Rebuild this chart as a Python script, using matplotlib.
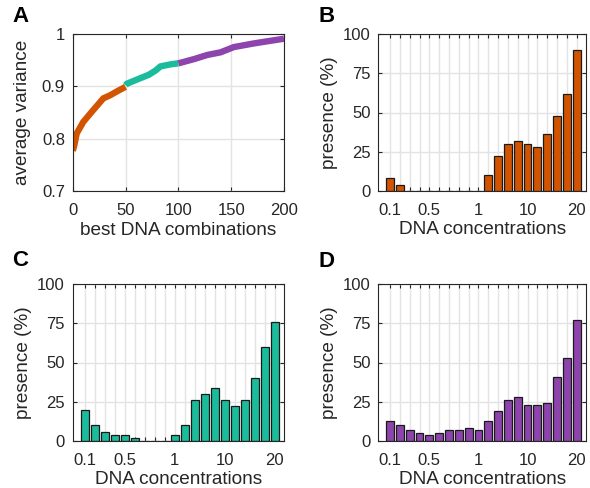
import matplotlib
matplotlib.use("Agg")
import matplotlib.pyplot as plt
import numpy as np

plt.rcParams['font.family'] = ['Liberation Sans', 'DejaVu Sans']

# ---- Panel A data ----
a_orange_x = [0, 1.3, 3.8, 10, 19.6, 29, 35.5, 43.4, 50]
a_orange_y = [0.777, 0.785, 0.810, 0.832, 0.855, 0.877, 0.883, 0.892, 0.899]
a_teal_x = [50, 51.3, 60.9, 71.9, 78.3, 83, 92.5, 100]
a_teal_y = [0.902, 0.905, 0.913, 0.922, 0.930, 0.938, 0.942, 0.944]
a_purple_x = [100, 102, 114.8, 127.5, 140, 152.5, 171.5, 184, 200]
a_purple_y = [0.944, 0.945, 0.952, 0.960, 0.965, 0.975, 0.982, 0.986, 0.991]

# ---- Bar data ----
concentrations = ["0.1", "0.2", "0.3", "0.4", "0.5", "0.6", "0.7", "0.8", "0.9", "1",
                  "2", "4", "6", "8", "10", "12", "14", "16", "18", "20"]
shown_labels = ["0.1", "0.5", "1", "10", "20"]
presence_B = [8, 4, 0, 0, 0, 0, 0, 0, 0, 0, 10, 22, 30, 32, 30, 28, 36, 48, 62, 90]
presence_C = [20, 10, 6, 4, 4, 2, 0, 0, 0, 4, 10, 26, 30, 34, 26, 22, 26, 40, 60, 76]
presence_D = [13, 10, 7, 5, 4, 5, 7, 7, 8, 7, 13, 19, 26, 28, 23, 23, 24, 41, 53, 77]

ORANGE = "#D35400"
TEAL = "#1ABC9C"
PURPLE = "#8E44AD"
AX_COL = "#262626"
GRID_COL = "#E3E3E3"
TICK_FS = 12
LAB_FS = 13.7

W, H = 590, 488
fig = plt.figure(figsize=(W / 100, H / 100), dpi=100)


def rect(l, r, t, b):
    return [l / W, (H - b) / H, (r - l) / W, (b - t) / H]


def style(ax):
    for s in ax.spines.values():
        s.set_color(AX_COL)
        s.set_linewidth(0.8)
    ax.tick_params(direction='in', top=True, right=True, colors=AX_COL,
                   labelsize=TICK_FS, length=3, width=0.8)
    ax.tick_params(axis='x', pad=8.5)
    ax.tick_params(axis='y', pad=5.6)
    ax.set_axisbelow(True)


def labels(ax, xl, yl, wpx, hpx, ylab_px, xlab_px):
    ax.set_xlabel(xl, fontsize=LAB_FS, color=AX_COL)
    ax.set_ylabel(yl, fontsize=LAB_FS, color=AX_COL)
    ax.yaxis.set_label_coords(-ylab_px / wpx, 0.5)
    ax.xaxis.set_label_coords(0.5, -xlab_px / hpx)


# ---- Panel A ----
axA = fig.add_axes(rect(72.7, 284, 34, 191))
style(axA)
for xs, ys, c in [(a_orange_x, a_orange_y, ORANGE), (a_teal_x, a_teal_y, TEAL),
                  (a_purple_x, a_purple_y, PURPLE)]:
    axA.plot(xs, ys, color=c, lw=4.6, solid_capstyle='butt', solid_joinstyle='miter')
axA.set_xlim(0, 200)
axA.set_ylim(0.7, 1.0)
axA.set_xticks([0, 50, 100, 150, 200])
axA.set_yticks([0.7, 0.8, 0.9, 1.0])
axA.set_yticklabels(["0.7", "0.8", "0.9", "1"])
axA.grid(True, color=GRID_COL, lw=1)
labels(axA, "best DNA combinations", "average variance", 211.3, 157, 42, 31)


def bar_panel(r, vals, color, wpx):
    ax = fig.add_axes(r)
    style(ax)
    pos = np.arange(1, len(concentrations) + 1)
    ax.bar(pos, vals, width=0.8, color=color, edgecolor="#1a1a1a", linewidth=0.9)
    ax.set_xlim(-0.2, 20.95)
    ax.set_ylim(0, 100)
    ax.set_yticks([0, 25, 50, 75, 100])
    ax.set_xticks(pos)
    ax.set_xticklabels([c if c in shown_labels else "" for c in concentrations])
    ax.grid(True, color=GRID_COL, lw=1)
    labels(ax, "DNA concentrations", "presence (%)", wpx, 157, 40.5, 30.5)
    return ax


bar_panel(rect(378.3, 586, 34, 191), presence_B, ORANGE, 207.7)
bar_panel(rect(72.7, 284, 284, 441), presence_C, TEAL, 211.3)
bar_panel(rect(378.3, 586, 284, 441), presence_D, PURPLE, 207.7)

for lbl, x, y in [("A", 12, 6), ("B", 318, 6), ("C", 12, 250), ("D", 318, 251)]:
    fig.text(x / W, 1 - y / H, lbl, fontsize=16, fontweight='bold', va='top', ha='left',
             color='black')

fig.savefig("out.png", dpi=100)
